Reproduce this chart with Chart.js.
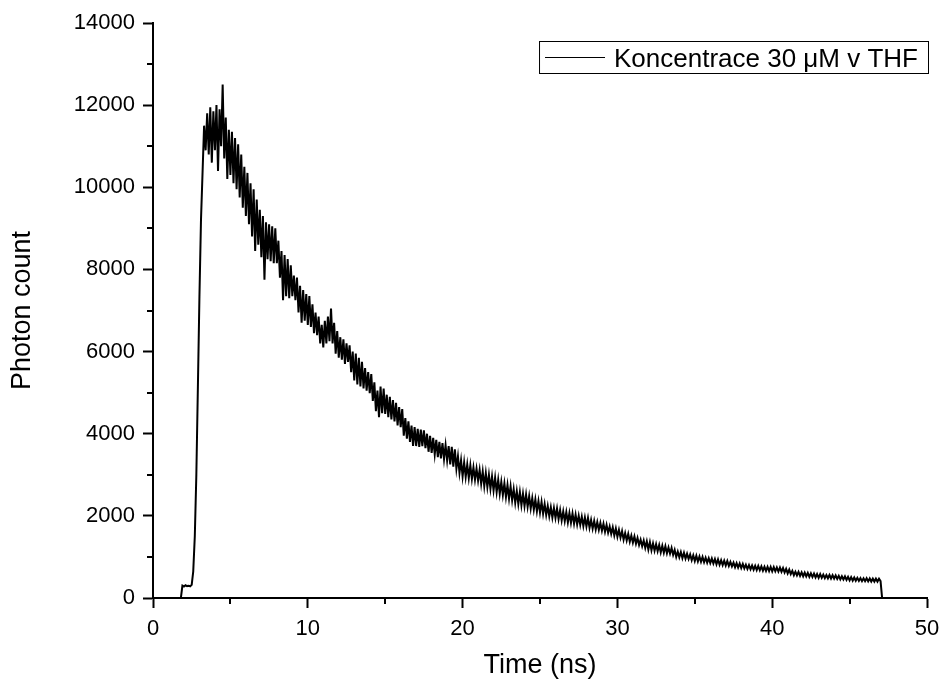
<!DOCTYPE html>
<html>
<head>
<meta charset="utf-8">
<script src="https://cdn.jsdelivr.net/npm/chart.js@4.4.1/dist/chart.umd.min.js"></script>
<style>
  html, body { margin: 0; padding: 0; background: #fff; }
</style>
</head>
<body>
<canvas id="decay-chart" width="942" height="686"></canvas>
<script>
const seriesLabel = "Koncentrace 30 μM v THF";

// time channels: first point at 1.8 ns, one value every 0.1 ns
const timeStartNs = 1.8;
const timeStepNs = 0.1;

// photon counts (upper / lower edge of the noise band alternately)
const photonCounts = [
  0, 300,
  280, 310, 290, 300, 285, 320, 650, 1500, 3000, 5150,
  7350, 9200, 10350, 11500, 10900, 11800, 10800, 11950, 10600, 11850,
  10900, 12000, 10400, 11900, 11000, 12500, 10700, 11700, 10200, 11400,
  10300, 11350, 10100, 11200, 9950, 11050, 9750, 10800, 9500, 10500,
  9300, 10350, 9100, 10100, 8800, 9950, 8450, 9700, 8600, 9450,
  8300, 9300, 7750, 9150, 8250, 9100, 8200, 9050, 8150, 9000,
  8150, 8700, 7800, 8450, 7250, 8350, 7350, 8250, 7300, 8100,
  7350, 7850, 7250, 7800, 6950, 7600, 6700, 7500, 6750, 7400,
  6650, 7350, 6600, 7150, 6450, 6950, 6400, 6850, 6200, 6650,
  6100, 6750, 6200, 6850, 6250, 7050, 6200, 6700, 5950, 6500,
  5850, 6350, 5800, 6300, 5700, 6200, 5750, 6150, 5500, 6000,
  5300, 5950, 5200, 5850, 5150, 5750, 5100, 5600, 5050, 5500,
  4990, 5450, 4800, 5250, 4550, 5050, 4400, 5150, 4500, 5100,
  4480, 4950, 4400, 4900, 4350, 4820, 4300, 4750, 4200, 4650,
  4160, 4600, 3950, 4380, 3880, 4300, 3800, 4200, 3700, 4160,
  3700, 4120, 3680, 4100, 3700, 4080, 3650, 4000, 3560, 3950,
  3530, 3900, 3500, 3850, 3430, 3800, 3400, 3770, 3380, 3720,
  3350, 3700, 3250, 3680, 3200, 3620, 3150, 3450, 3050, 3350,
  2960, 3300, 2950, 3250, 2920, 3230, 2900, 3180, 2880, 3150,
  2860, 3120, 2780, 3080, 2720, 3040, 2700, 3000, 2660, 2960,
  2620, 2930, 2580, 2880, 2540, 2830, 2510, 2790, 2460, 2750,
  2420, 2720, 2380, 2650, 2320, 2600, 2290, 2580, 2260, 2540,
  2240, 2520, 2220, 2480, 2180, 2430, 2150, 2400, 2110, 2360,
  2080, 2340, 2050, 2290, 2020, 2240, 1990, 2210, 1960, 2190,
  1950, 2180, 1920, 2140, 1890, 2110, 1870, 2090, 1840, 2070,
  1830, 2060, 1810, 2030, 1790, 2000, 1780, 1980, 1750, 1960,
  1740, 1950, 1710, 1900, 1690, 1880, 1670, 1850, 1660, 1830,
  1640, 1810, 1610, 1780, 1590, 1740, 1560, 1720, 1520, 1690,
  1490, 1660, 1470, 1630, 1420, 1580, 1400, 1560, 1370, 1520,
  1350, 1500, 1320, 1460, 1290, 1420, 1260, 1400, 1220, 1380,
  1180, 1360, 1160, 1330, 1150, 1310, 1140, 1290, 1110, 1270,
  1100, 1260, 1090, 1230, 1080, 1220, 1050, 1170, 1000, 1130,
  990, 1120, 970, 1100, 960, 1080, 950, 1060, 920, 1040,
  900, 1030, 890, 1010, 880, 1000, 870, 980, 860, 970,
  850, 960, 840, 950, 820, 940, 810, 920, 800, 910,
  790, 900, 780, 880, 770, 860, 750, 850, 740, 840,
  730, 830, 720, 810, 705, 800, 700, 790, 690, 785,
  680, 780, 675, 770, 665, 760, 660, 760, 655, 755,
  650, 750, 650, 745, 645, 740, 640, 730, 620, 710,
  600, 690, 580, 660, 555, 640, 550, 635, 540, 625,
  530, 620, 525, 610, 515, 600, 510, 595, 500, 585,
  490, 580, 490, 570, 485, 560, 480, 560, 475, 555,
  470, 550, 465, 540, 455, 530, 450, 525, 440, 515,
  430, 510, 425, 500, 420, 490, 415, 485, 410, 480,
  410, 480, 405, 475, 400, 470, 400, 470, 400, 470,
  410, 0
];

const xTicks = [0, 10, 20, 30, 40, 50];
const xMinorTicks = [5, 15, 25, 35, 45];
const yTicks = [0, 2000, 4000, 6000, 8000, 10000, 12000, 14000];
const yMinorTicks = [1000, 3000, 5000, 7000, 9000, 11000, 13000];

const fontFamily = "'Liberation Sans', Arial, sans-serif";

const points = photonCounts.map((c, i) => ({ x: timeStartNs + i * timeStepNs, y: c }));

// small ticks between the labelled ones
const minorTicks = {
  id: "minorTicks",
  afterDraw(chart) {
    const { ctx, chartArea, scales } = chart;
    ctx.save();
    ctx.strokeStyle = "#000";
    ctx.lineWidth = 2;
    ctx.beginPath();
    xMinorTicks.forEach((v) => {
      const x = Math.round(scales.x.getPixelForValue(v));
      ctx.moveTo(x, chartArea.bottom);
      ctx.lineTo(x, chartArea.bottom + 6);
    });
    yMinorTicks.forEach((v) => {
      const y = Math.round(scales.y.getPixelForValue(v));
      ctx.moveTo(chartArea.left, y);
      ctx.lineTo(chartArea.left - 6, y);
    });
    ctx.stroke();
    ctx.restore();
  }
};

// boxed legend in the top right corner of the plot
const boxLegend = {
  id: "boxLegend",
  afterDraw(chart) {
    const { ctx, chartArea } = chart;
    const label = chart.data.datasets[0].label;
    ctx.save();
    ctx.font = `26px ${fontFamily}`;
    const textW = ctx.measureText(label).width;
    const right = chartArea.right + 1;
    const left = right - (textW + 85);
    const top = 41, bottom = 73;
    ctx.fillStyle = "#fff";
    ctx.fillRect(left, top, right - left, bottom - top);
    ctx.strokeStyle = "#000";
    ctx.lineWidth = 1;
    ctx.strokeRect(left + 0.5, top + 0.5, right - left, bottom - top);
    ctx.beginPath();
    ctx.moveTo(left + 6, 57.5);
    ctx.lineTo(left + 66, 57.5);
    ctx.stroke();
    ctx.fillStyle = "#000";
    ctx.textBaseline = "alphabetic";
    ctx.fillText(label, left + 75, 67);
    ctx.restore();
  }
};

new Chart(document.getElementById("decay-chart").getContext("2d"), {
  type: "line",
  data: {
    datasets: [{
      label: seriesLabel,
      data: points,
      borderColor: "#000",
      borderWidth: 2,
      pointRadius: 0,
      tension: 0,
      fill: false
    }]
  },
  options: {
    responsive: false,
    animation: false,
    devicePixelRatio: 1,
    layout: { padding: { top: 23, right: 15, left: 0, bottom: 0 } },
    plugins: {
      legend: { display: false },
      tooltip: { enabled: false }
    },
    scales: {
      x: {
        type: "linear",
        min: 0,
        max: 50,
        afterBuildTicks: (scale) => { scale.ticks = xTicks.map((v) => ({ value: v })); },
        afterFit: (scale) => {
          scale.height = 88;
          scale.paddingLeft = 0;
          scale.paddingRight = 0;
        },
        border: { color: "#000", width: 2 },
        grid: { drawOnChartArea: false, drawTicks: true, tickLength: 10, tickColor: "#000", tickWidth: 2 },
        ticks: { color: "#000", padding: 8, maxRotation: 0, font: { family: fontFamily, size: 22 }, callback: (v) => String(v) },
        title: {
          display: true,
          text: "Time (ns)",
          color: "#000",
          padding: { top: 0, bottom: 4 },
          font: { family: fontFamily, size: 27 }
        }
      },
      y: {
        min: 0,
        max: 14000,
        afterBuildTicks: (scale) => { scale.ticks = yTicks.map((v) => ({ value: v })); },
        afterFit: (scale) => {
          scale.width = 153;
          scale.paddingTop = 0;
          scale.paddingBottom = 0;
        },
        border: { color: "#000", width: 2 },
        grid: { drawOnChartArea: false, drawTicks: true, tickLength: 10, tickColor: "#000", tickWidth: 2 },
        ticks: { color: "#000", padding: 8, font: { family: fontFamily, size: 22 }, callback: (v) => String(v) },
        title: {
          display: true,
          text: "Photon count",
          color: "#000",
          padding: { top: 6, bottom: 0 },
          font: { family: fontFamily, size: 27 }
        }
      }
    }
  },
  plugins: [minorTicks, boxLegend]
});
</script>
</body>
</html>
